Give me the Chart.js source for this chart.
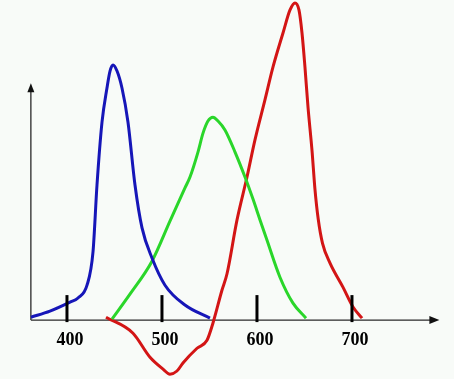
<!DOCTYPE html>
<html>
<head>
<meta charset="utf-8">
<script src="https://cdn.jsdelivr.net/npm/chart.js@4.4.1/dist/chart.umd.min.js"></script>
<style>
  html, body { margin: 0; padding: 0; background: #f8fbf8; }
  .wrap { width: 454px; height: 379px; position: relative; }
</style>
</head>
<body>
<div class="wrap"><canvas id="cmf"></canvas></div>
<script>
// wavelength (nm) and relative response
const blueWl  = [362.1, 382.1, 403.2, 411.6, 421.1, 427.4, 431.6, 436.9, 442.1, 445.3, 448.5, 452.7, 457.9, 464.2, 471.6, 479.0, 489.5, 503.2, 524.2, 550.5];
const blueVal = [0.009, 0.028, 0.056, 0.069, 0.109, 0.213, 0.422, 0.619, 0.725, 0.778, 0.797, 0.778, 0.725, 0.619, 0.422, 0.288, 0.194, 0.109, 0.047, 0.006];

const greenWl  = [447.4, 466.3, 489.5, 508.4, 524.2, 529.5, 537.9, 543.2, 548.4, 553.7, 559.0, 566.3, 576.9, 587.4, 595.8, 603.2, 610.5, 624.2, 637.9, 651.6];
const greenVal = [0.003, 0.081, 0.184, 0.309, 0.413, 0.447, 0.525, 0.584, 0.622, 0.634, 0.622, 0.594, 0.525, 0.447, 0.378, 0.313, 0.250, 0.134, 0.053, 0.006];

const redWl  = [441.1, 469.5, 487.4, 501.1, 508.4, 515.8, 522.1, 536.9, 547.4, 553.7, 563.2, 568.4, 579.0, 589.5, 597.9, 608.4, 616.9, 627.4, 634.8, 640.0, 644.2, 647.4, 650.5, 653.7, 657.9, 661.0, 664.5, 669.0, 676.9, 690.5, 701.1, 710.6];
const redVal = [0.009, -0.041, -0.116, -0.153, -0.169, -0.159, -0.134, -0.088, -0.063, -0.009, 0.094, 0.144, 0.313, 0.447, 0.563, 0.688, 0.791, 0.897, 0.969, 0.991, 0.969, 0.897, 0.791, 0.666, 0.531, 0.410, 0.315, 0.240, 0.178, 0.103, 0.041, 0.006];

const tickLabels = [400, 500, 600, 700];

// where the drawn axes start and stop, in data units
const axisStart = 362;
const axisEnd = 792;
const axisTop = 0.74;

function pts(xs, ys) {
    return xs.map((v, i) => ({ x: v, y: ys[i] }));
}

const axesPlugin = {
    id: 'axes',
    beforeDatasetsDraw(chart) {
        const { ctx, scales: { x, y } } = chart;
        const x0 = x.getPixelForValue(axisStart);
        const x1 = x.getPixelForValue(axisEnd);
        const y0 = y.getPixelForValue(0);
        const y1 = y.getPixelForValue(axisTop);
        ctx.save();
        ctx.strokeStyle = '#2a2a2a';
        ctx.lineWidth = 1.3;
        ctx.beginPath();
        ctx.moveTo(x0, y0);
        ctx.lineTo(x1 - 8, y0);
        ctx.moveTo(x0, y0);
        ctx.lineTo(x0, y1 + 6);
        ctx.stroke();
        ctx.fillStyle = '#111';
        ctx.beginPath();
        ctx.moveTo(x1, y0);
        ctx.lineTo(x1 - 10, y0 - 4);
        ctx.lineTo(x1 - 10, y0 + 4);
        ctx.closePath();
        ctx.fill();
        ctx.beginPath();
        ctx.moveTo(x0, y1);
        ctx.lineTo(x0 - 3.5, y1 + 9);
        ctx.lineTo(x0 + 3.5, y1 + 9);
        ctx.closePath();
        ctx.fill();
        ctx.restore();
    },
    afterDatasetsDraw(chart) {
        const { ctx, scales: { x, y } } = chart;
        const y0 = y.getPixelForValue(0);
        ctx.save();
        ctx.strokeStyle = '#000';
        ctx.lineWidth = 3;
        x.ticks.forEach(t => {
            const px = x.getPixelForValue(t.value);
            ctx.beginPath();
            ctx.moveTo(px, y0 - 25);
            ctx.lineTo(px, y0 + 2);
            ctx.stroke();
        });
        ctx.restore();
    }
};

const lineStyle = {
    borderWidth: 3,
    pointRadius: 0,
    fill: false,
    cubicInterpolationMode: 'monotone'
};

const ctx = document.getElementById('cmf').getContext('2d');
const cmfChart = new Chart(ctx, {
    type: 'line',
    data: {
        datasets: [
            { ...lineStyle, label: 'blue', data: pts(blueWl, blueVal), borderColor: '#1616b8' },
            { ...lineStyle, label: 'green', data: pts(greenWl, greenVal), borderColor: '#2ad62a' },
            { ...lineStyle, label: 'red', data: pts(redWl, redVal), borderColor: '#d31515' }
        ]
    },
    options: {
        responsive: true,
        maintainAspectRatio: false,
        animation: false,
        devicePixelRatio: 1,
        layout: { padding: 0 },
        scales: {
            x: {
                type: 'linear',
                min: 329.5,
                max: 807.4,
                position: { y: 0 },
                grid: { display: false, drawTicks: false },
                border: { display: false },
                afterBuildTicks: scale => {
                    scale.ticks = tickLabels.map(v => ({ value: v }));
                },
                ticks: {
                    color: '#000',
                    padding: 9,
                    labelOffset: 3,
                    maxRotation: 0,
                    font: { family: '"Liberation Serif", "Times New Roman", serif', size: 18, weight: 'bold' }
                }
            },
            y: {
                type: 'linear',
                display: false,
                min: -0.184,
                max: 1.0
            }
        },
        plugins: {
            legend: { display: false },
            tooltip: { enabled: false }
        }
    },
    plugins: [axesPlugin]
});
</script>
</body>
</html>
